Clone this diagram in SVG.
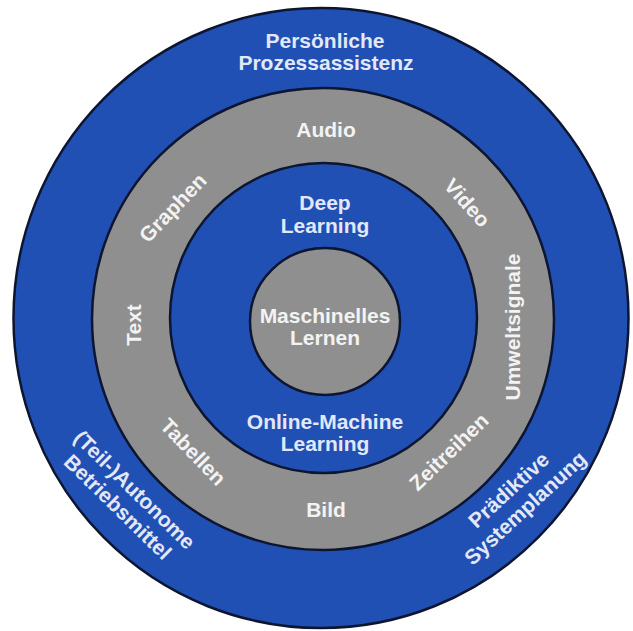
<svg xmlns="http://www.w3.org/2000/svg" width="633" height="631" viewBox="0 0 633 631">
  <style>
    .ring { stroke: #0d1530; stroke-width: 2.5; }
    .blue { fill: #2150b5; }
    .gray { fill: #8f8f8f; }
    text { font-family: "Liberation Sans", Arial, sans-serif; font-weight: bold; font-size: 21px; text-anchor: middle; }
    .tb { fill: #e2e8f8; }
    .tg { fill: #f3f3f3; }
  </style>
  <rect width="633" height="631" fill="#ffffff"/>
  <g id="ring-anwendungen">
    <ellipse class="ring blue" cx="321" cy="318" rx="307.5" ry="310"/>
    <text class="tb" x="325" y="48">Persönliche</text>
    <text class="tb" x="326" y="70">Prozessassistenz</text>
    <g transform="translate(126,498.5) rotate(44.3)">
      <text class="tb" x="0" y="-5">(Teil-)Autonome</text>
      <text class="tb" x="0" y="19">Betriebsmittel</text>
    </g>
    <g transform="translate(517,499) rotate(-42.5)">
      <text class="tb" x="0" y="-5">Prädiktive</text>
      <text class="tb" x="0" y="19.5">Systemplanung</text>
    </g>
  </g>
  <g id="ring-daten">
    <circle class="ring gray" cx="323" cy="319" r="231"/>
    <text class="tg" x="326" y="137">Audio</text>
    <text class="tg" x="326" y="517">Bild</text>
    <text class="tg" transform="translate(173,208) rotate(-46)" y="7">Graphen</text>
    <text class="tg" transform="translate(467,203) rotate(48)" y="7">Video</text>
    <text class="tg" transform="translate(133,325) rotate(-90)" y="7.5">Text</text>
    <text class="tg" transform="translate(512,327) rotate(-90)" y="7.5">Umweltsignale</text>
    <text class="tg" transform="translate(193,452) rotate(46)" y="7">Tabellen</text>
    <text class="tg" transform="translate(449,452) rotate(-44)" y="7">Zeitreihen</text>
  </g>
  <g id="ring-methoden">
    <ellipse class="ring blue" cx="323.5" cy="318" rx="153.5" ry="155"/>
    <text class="tb" x="325" y="210">Deep</text>
    <text class="tb" x="325" y="233">Learning</text>
    <text class="tb" x="325" y="429">Online-Machine</text>
    <text class="tb" x="325" y="451">Learning</text>
  </g>
  <g id="kern-maschinelles-lernen">
    <ellipse class="ring gray" cx="325" cy="321.5" rx="75" ry="73.5"/>
    <text class="tg" x="325" y="323">Maschinelles</text>
    <text class="tg" x="325" y="345">Lernen</text>
  </g>
</svg>
